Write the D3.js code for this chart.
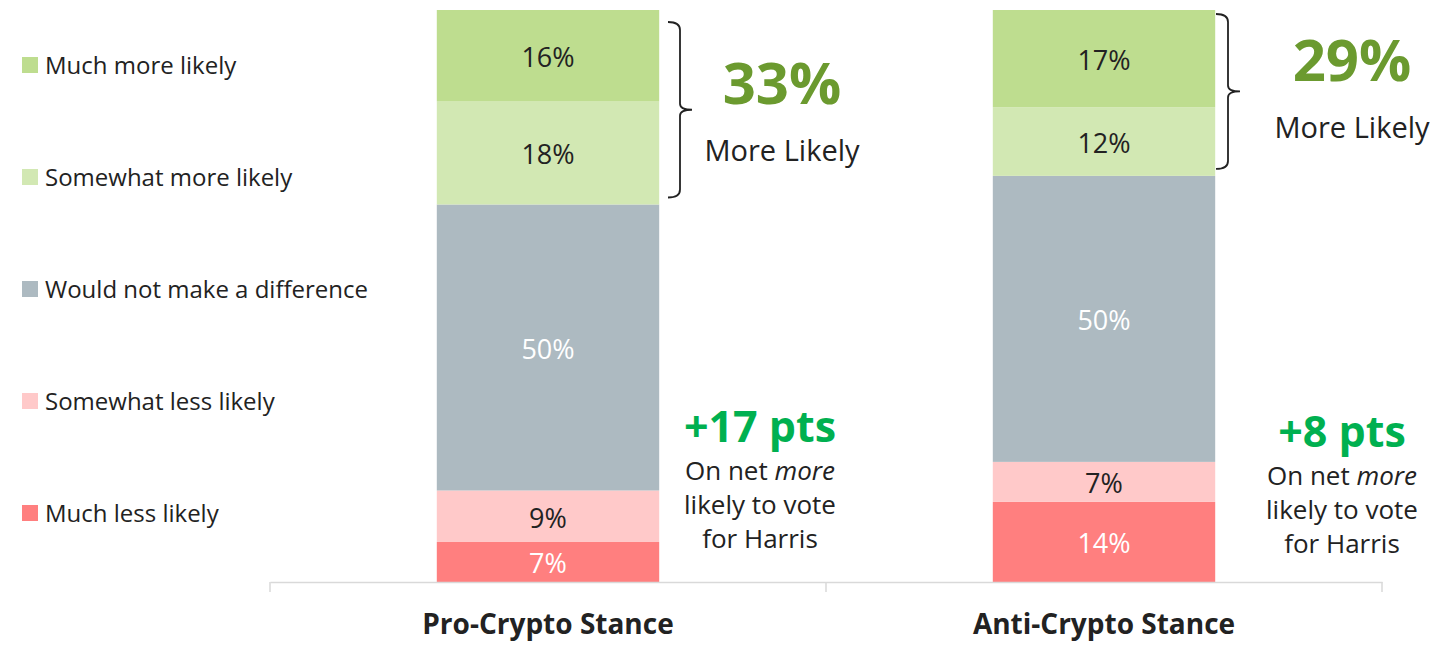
<!DOCTYPE html>
<html>
<head>
<meta charset="utf-8">
<script src="https://cdn.jsdelivr.net/npm/d3@7"></script>
<style>
  body { margin: 0; background: #fff; }
  text { font-family: "Open Sans", "Noto Sans", sans-serif; }
</style>
</head>
<body>
<svg id="chart" width="1434" height="650"></svg>
<script>
// data
var categories = ["Pro-Crypto Stance", "Anti-Crypto Stance"];
var seriesNames = ["Much less likely", "Somewhat less likely", "Would not make a difference", "Somewhat more likely", "Much more likely"];
var muchLess = [7, 14];
var somewhatLess = [9, 7];
var noDiff = [50, 50];
var somewhatMore = [18, 12];
var muchMore = [16, 17];
var moreLikelyTotals = ["33%", "29%"];
var netLabels = ["+17 pts", "+8 pts"];

var colors = ["#ff7f7f", "#ffc9c9", "#adbac1", "#d2e8b3", "#bedd8f"];
var labelColors = ["#fff", "#222", "#fff", "#222", "#222"];

var svg = d3.select("#chart");

//-- scales
var x = d3.scaleBand().domain(categories).range([270, 1382]).padding(0);
var barW = x.bandwidth() * 0.4;
var y = d3.scaleLinear().domain([0, 100]).range([582, 10]);

// stack
var rows = categories.map(function(c, i) {
  var r = { cat: c };
  r[seriesNames[0]] = muchLess[i];
  r[seriesNames[1]] = somewhatLess[i];
  r[seriesNames[2]] = noDiff[i];
  r[seriesNames[3]] = somewhatMore[i];
  r[seriesNames[4]] = muchMore[i];
  return r;
});
var stacked = d3.stack().keys(seriesNames)(rows);

var layers = svg.append("g").selectAll("g")
  .data(stacked).enter().append("g")
  .attr("fill", function(d, i) { return colors[i]; });

layers.selectAll("rect")
  .data(function(d) { return d; })
  .enter().append("rect")
  .attr("x", function(d) { return x(d.data.cat) + (x.bandwidth() - barW) / 2; })
  .attr("y", function(d) { return y(d[1]); })
  .attr("width", barW)
  .attr("height", function(d) { return y(d[0]) - y(d[1]); });

layers.each(function(layer, li) {
  d3.select(this).selectAll("text")
    .data(layer).enter().append("text")
    .attr("x", function(d) { return x(d.data.cat) + x.bandwidth() / 2; })
    .attr("y", function(d) { return (y(d[0]) + y(d[1])) / 2; })
    .attr("dy", "0.42em")
    .attr("text-anchor", "middle")
    .attr("font-size", 27)
    .attr("fill", labelColors[li])
    .text(function(d) { return (d[1] - d[0]) + "%"; });
});

// axis
var axis = svg.append("g").attr("transform", "translate(0,582)")
  .call(d3.axisBottom(x).tickSize(0).tickFormat(""));
axis.select(".domain").attr("stroke", "#d9d9d9").attr("stroke-width", 1.5);
var bounds = [270, 270 + x.bandwidth(), 1382];
axis.selectAll("line.sep").data(bounds).enter().append("line")
  .attr("class", "sep")
  .attr("x1", function(d) { return d; }).attr("x2", function(d) { return d; })
  .attr("y1", 0).attr("y2", 10)
  .attr("stroke", "#d9d9d9").attr("stroke-width", 1.5);

svg.append("g").selectAll("text")
  .data(categories).enter().append("text")
  .attr("x", function(d) { return x(d) + x.bandwidth() / 2; })
  .attr("y", 634)
  .attr("text-anchor", "middle")
  .attr("font-size", 28)
  .attr("font-weight", "bold")
  .attr("fill", "#222")
  .text(function(d) { return d; });

// legend (top to bottom = reversed series)
var legendY = [513, 401, 289, 177, 65];
var legend = svg.append("g").selectAll("g")
  .data(seriesNames).enter().append("g")
  .attr("transform", function(d, i) { return "translate(22," + legendY[i] + ")"; });
legend.append("rect")
  .attr("x", 0).attr("y", -8).attr("width", 16).attr("height", 16)
  .attr("fill", function(d, i) { return colors[i]; });
legend.append("text")
  .attr("x", 23).attr("y", 0).attr("dy", "0.38em")
  .attr("font-size", 24)
  .attr("fill", "#222")
  .text(function(d) { return d; });

// brackets around the "more likely" segments
function bracket(xl, y0, y1, w) {
  var ym = (y0 + y1) / 2;
  var p = d3.path();
  p.moveTo(xl, y0);
  p.quadraticCurveTo(xl + w, y0, xl + w, y0 + 8);
  p.lineTo(xl + w, ym - 6);
  p.quadraticCurveTo(xl + w, ym, xl + w * 2, ym);
  p.quadraticCurveTo(xl + w, ym, xl + w, ym + 6);
  p.lineTo(xl + w, y1 - 8);
  p.quadraticCurveTo(xl + w, y1, xl, y1);
  return p.toString();
}
var bracketX = [668, 1216];
var bracketTop = [y(100) + 12, y(100) + 4];
categories.forEach(function(c, i) {
  var bottom = y(muchLess[i] + somewhatLess[i] + noDiff[i]) - 7;
  svg.append("path")
    .attr("d", bracket(bracketX[i], bracketTop[i], bottom, 12))
    .attr("fill", "none").attr("stroke", "#222").attr("stroke-width", 1.8);
});

// callouts
var totalX = [782, 1352], totalY = [104, 81];
categories.forEach(function(c, i) {
  svg.append("text")
    .attr("x", totalX[i]).attr("y", totalY[i])
    .attr("text-anchor", "middle")
    .attr("font-size", 58).attr("font-weight", "bold")
    .attr("fill", "#6b9a2f")
    .text(moreLikelyTotals[i]);
  svg.append("text")
    .attr("x", totalX[i]).attr("y", totalY[i] + 57)
    .attr("text-anchor", "middle")
    .attr("font-size", 29).attr("fill", "#222")
    .text("More Likely");
});

var netX = [760, 1342], netY = [442, 447];
categories.forEach(function(c, i) {
  svg.append("text")
    .attr("x", netX[i]).attr("y", netY[i])
    .attr("text-anchor", "middle")
    .attr("font-size", 43).attr("font-weight", "bold")
    .attr("fill", "#00b050")
    .text(netLabels[i]);
  var t1 = svg.append("text")
    .attr("x", netX[i]).attr("y", netY[i] + 38)
    .attr("text-anchor", "middle")
    .attr("font-size", 26).attr("fill", "#222");
  t1.append("tspan").text("On net ");
  t1.append("tspan").attr("font-style", "italic").text("more");
  svg.append("text")
    .attr("x", netX[i]).attr("y", netY[i] + 72)
    .attr("text-anchor", "middle")
    .attr("font-size", 26).attr("fill", "#222")
    .text("likely to vote");
  svg.append("text")
    .attr("x", netX[i]).attr("y", netY[i] + 106)
    .attr("text-anchor", "middle")
    .attr("font-size", 26).attr("fill", "#222")
    .text("for Harris");
});
</script>
</body>
</html>
